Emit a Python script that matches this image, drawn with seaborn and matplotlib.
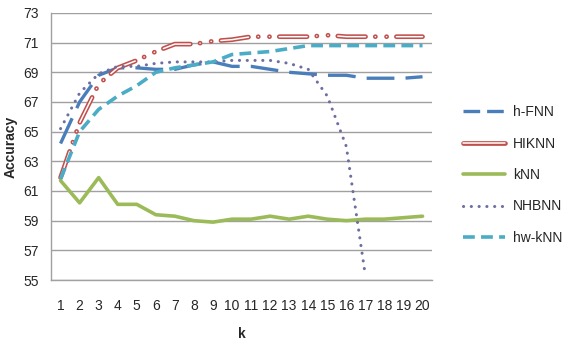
import numpy as np
import pandas as pd
import matplotlib
matplotlib.use('Agg')
import matplotlib.pyplot as plt
import matplotlib.patheffects as pe
from matplotlib.lines import Line2D
import seaborn as sns

sns.set_style('white')
plt.rcParams['font.family'] = ['Liberation Sans', 'DejaVu Sans']
plt.rcParams['lines.scale_dashes'] = False

# 데이터
k = list(range(1, 21))
h_fnn = [64.2, 67.0, 68.8, 69.3, 69.3, 69.2, 69.2, 69.5, 69.7, 69.4,
         69.4, 69.2, 69.0, 68.9, 68.8, 68.8, 68.6, 68.6, 68.6, 68.7]
hiknn = [61.9, 65.6, 68.2, 69.3, 69.8, 70.4, 70.9, 70.9, 71.1, 71.2,
         71.4, 71.4, 71.4, 71.4, 71.5, 71.4, 71.4, 71.4, 71.4, 71.4]
knn = [61.7, 60.2, 61.9, 60.1, 60.1, 59.4, 59.3, 59.0, 58.9, 59.1,
       59.1, 59.3, 59.1, 59.3, 59.1, 59.0, 59.1, 59.1, 59.2, 59.3]
nhbnn = [65.2, 67.6, 68.9, 69.4, 69.4, 69.6, 69.7, 69.7, 69.7, 69.8,
         69.8, 69.8, 69.6, 69.2, 67.4, 64.0, 55.3, np.nan, np.nan, np.nan]
hw_knn = [61.8, 65.0, 66.5, 67.4, 68.1, 69.0, 69.3, 69.5, 69.7, 70.2,
          70.3, 70.4, 70.6, 70.8, 70.8, 70.8, 70.8, 70.8, 70.8, 70.8]

df = pd.DataFrame({'k': k, 'h-FNN': h_fnn, 'HIKNN': hiknn, 'kNN': knn,
                   'NHBNN': nhbnn, 'hw-kNN': hw_knn})

fig = plt.figure(figsize=(5.67, 3.5), dpi=100)
ax = fig.add_axes([0.09, 0.2, 0.672, 0.763])

red_fx = [pe.Stroke(linewidth=3.4, foreground='#c0504d'), pe.Normal()]
hik_ls = (0, (20, 7, 0.1, 8, 0.1, 7))
hfnn_ls = (0, (20, 8))
nhb_ls = (0, (0.1, 5.5))
hw_ls = (0, (8.5, 4.5))

sns.lineplot(data=df, x='k', y='h-FNN', ax=ax, color='#4a7ebb', lw=2.4,
             linestyle=hfnn_ls)
sns.lineplot(data=df, x='k', y='HIKNN', ax=ax, color='white', lw=1.1,
             linestyle=hik_ls, dash_capstyle='round', path_effects=red_fx)
sns.lineplot(data=df, x='k', y='kNN', ax=ax, color='#9bbb59', lw=2.6)
sns.lineplot(data=df, x='k', y='NHBNN', ax=ax, color='#6e6fa0', lw=2.2,
             linestyle=nhb_ls, dash_capstyle='round')
sns.lineplot(data=df, x='k', y='hw-kNN', ax=ax, color='#4bacc6', lw=2.6,
             linestyle=hw_ls)

ax.set_xlim(0.5, 20.5)
ax.set_ylim(55, 73)
ax.set_yticks(range(55, 74, 2))
ax.set_xticks(k)
ax.set_xticks(np.arange(0.5, 21, 1), minor=True)
ax.tick_params(axis='x', which='major', length=0, pad=14, labelsize=10)
ax.tick_params(axis='x', which='minor', length=5, width=1, color='#a0a0a0', direction='out')
ax.tick_params(axis='y', length=6, width=1, color='#a0a0a0', direction='out', labelsize=10, pad=3)
for t in ax.get_yticklabels() + ax.get_xticklabels():
    t.set_color('#262626')
ax.yaxis.grid(True, color='#a0a0a0', lw=1)
ax.set_axisbelow(True)
for s in ['top', 'right']:
    ax.spines[s].set_visible(False)
for s in ['left', 'bottom']:
    ax.spines[s].set_color('#a0a0a0')
    ax.spines[s].set_linewidth(1)

ax.set_xlabel('k', fontweight='bold', fontsize=10, labelpad=10)
ax.set_ylabel('Accuracy', fontweight='bold', fontsize=10, labelpad=4)

handles = [
    Line2D([], [], color='#4a7ebb', lw=2.4, linestyle=(0, (12, 5))),
    Line2D([], [], color='white', lw=1.1, dash_capstyle='round',
           solid_capstyle='round', path_effects=red_fx),
    Line2D([], [], color='#9bbb59', lw=2.6),
    Line2D([], [], color='#6e6fa0', lw=2.2, linestyle=nhb_ls, dash_capstyle='round'),
    Line2D([], [], color='#4bacc6', lw=2.6, linestyle=hw_ls),
]
labels = ['h-FNN', 'HIKNN', 'kNN', 'NHBNN', 'hw-kNN']
leg = ax.legend(handles, labels, loc='center left', bbox_to_anchor=(0.795, 0.5),
                bbox_transform=fig.transFigure, frameon=False, fontsize=10,
                handlelength=3.0, handletextpad=0.6, labelspacing=1.25)
for t in leg.get_texts():
    t.set_color('#262626')

fig.savefig('out.png', dpi=100)
